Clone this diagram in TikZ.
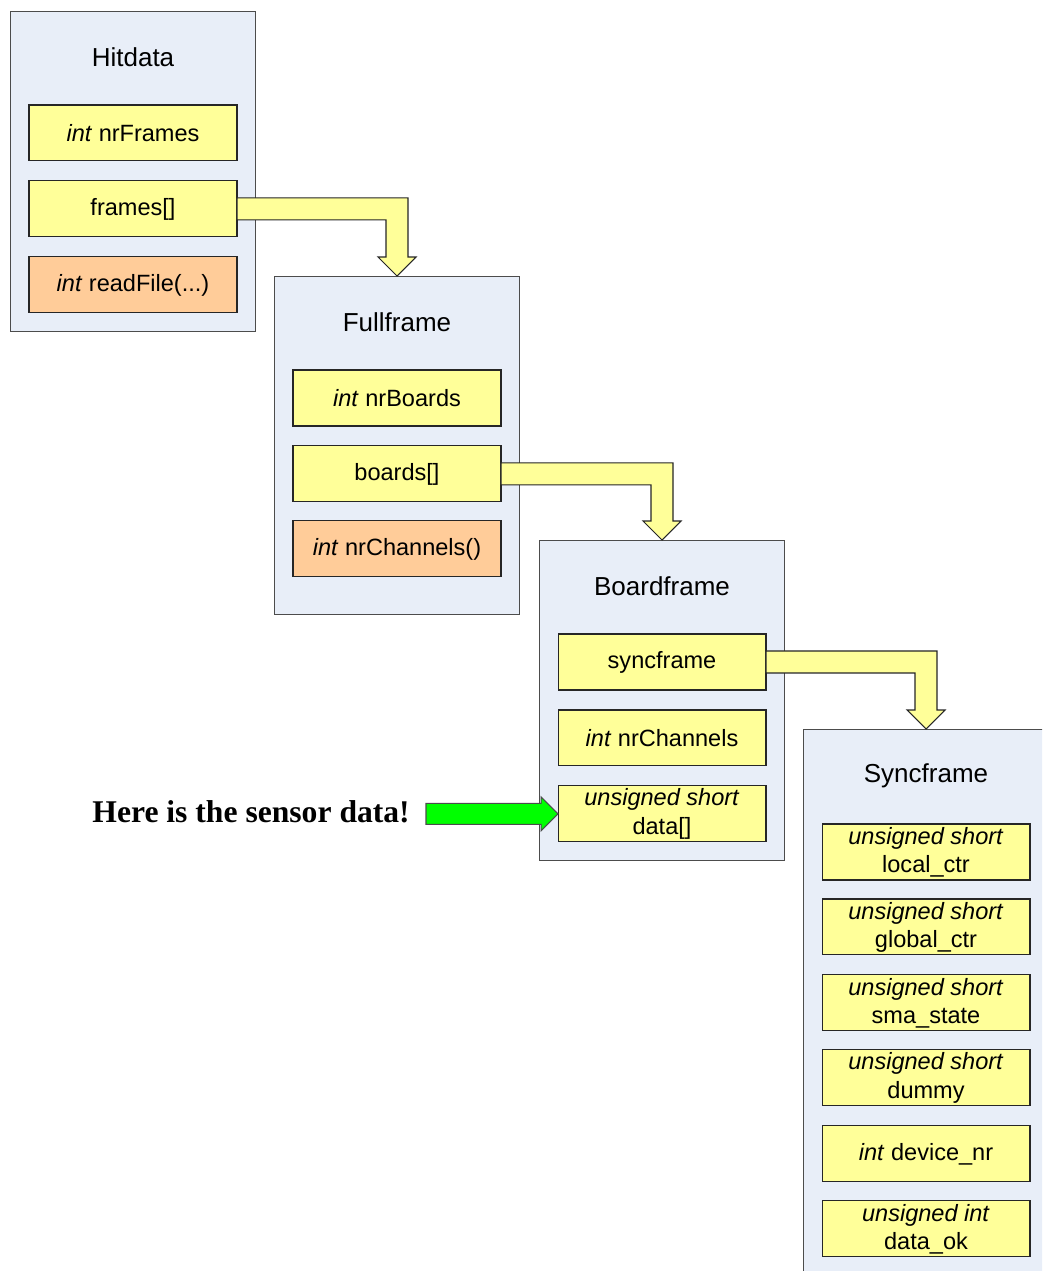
\documentclass[tikz,border=0pt]{standalone}
\usepackage{fontspec}
\setmainfont{Liberation Sans}
\newfontfamily\serifbold{Liberation Serif}
\usepackage{tikz}
\usetikzlibrary{positioning, calc}

\definecolor{framebg}{RGB}{232,238,248}
\definecolor{fieldyellow}{RGB}{255,255,153}
\definecolor{methodorange}{RGB}{255,204,153}
\definecolor{arrowgreen}{RGB}{0,255,0}

% block arrow from a field to the top of the next frame
\newcommand{\blockarrow}[2]{%
  \draw[blockarrow] ($(#1.east)+(0,-11)$) -- ($(#2.north |- #1.east)+(11,-11)$)
    -- ($(#2.north)+(11,-19)$) -- ($(#2.north)+(19,-19)$) -- (#2.north)
    -- ($(#2.north)+(-19,-19)$) -- ($(#2.north)+(-11,-19)$)
    -- ($(#2.north |- #1.east)+(-11,11)$) -- ($(#1.east)+(0,11)$) -- cycle;}

\begin{document}
\begin{tikzpicture}[x=0.02cm, y=-0.02cm, node distance=0.4cm,
        frame/.style={draw=black!70, line width=0.6pt, fill=framebg, rectangle, minimum width=4.9cm, anchor=north west},
        title/.style={font=\fontsize{14.8}{17}\selectfont},
        field/.style={draw=black!85, line width=0.6pt, fill=fieldyellow, rectangle, minimum width=4.16cm, minimum height=1.12cm, outer sep=0pt, align=center, inner sep=1pt, font=\fontsize{13.4}{16}\selectfont},
        method/.style={field, fill=methodorange},
        blockarrow/.style={draw=black!85, line width=0.6pt, fill=fieldyellow, line join=miter},
        greenarrow/.style={draw=black!70, line width=0.6pt, fill=arrowgreen, line join=miter}]
      \clip (0,0) rectangle (1042,1271);

      % Hitdata
      \node[frame, minimum height=6.4cm] (hitdata) at (10,11) {};
      \node[title] (hitdataT) at ($(hitdata.north)+(0,46)$) {Hitdata};
      \node[field, below=1.88cm of hitdata.north] (nrframes) {\textit{int} nrFrames};
      \node[field, below=of nrframes] (frames) {frames[]};
      \node[method, below=of frames] (readfile) {\textit{int} readFile(...)};

      % Fullframe
      \node[frame, minimum height=6.76cm] (fullframe) at (274,276) {};
      \node[title] (fullframeT) at ($(fullframe.north)+(0,46)$) {Fullframe};
      \node[field, below=1.88cm of fullframe.north] (nrboards) {\textit{int} nrBoards};
      \node[field, below=of nrboards] (boards) {boards[]};
      \node[method, below=0.38cm of boards] (nrchannelsF) {\textit{int} nrChannels()};

      % Boardframe
      \node[frame, minimum height=6.4cm] (boardframe) at (539,540) {};
      \node[title] (boardframeT) at ($(boardframe.north)+(0,46)$) {Boardframe};
      \node[field, below=1.88cm of boardframe.north] (syncfield) {syncframe};
      \node[field, below=of syncfield] (nrchannels) {\textit{int} nrChannels};
      \node[field, below=of nrchannels] (data) {\textit{unsigned short}\\data[]};

      % Syncframe
      \node[frame, minimum height=11.4cm] (syncframe) at (803,729) {};
      \node[title] (syncframeT) at ($(syncframe.north)+(0,47)$) {Syncframe};
      \node[field, below=1.9cm of syncframe.north] (localctr) {\textit{unsigned short}\\local\_ctr};
      \node[field, below=0.38cm of localctr] (globalctr) {\textit{unsigned short}\\global\_ctr};
      \node[field, below=of globalctr] (smastate) {\textit{unsigned short}\\sma\_state};
      \node[field, below=0.38cm of smastate] (dummy) {\textit{unsigned short}\\dummy};
      \node[field, below=of dummy] (devicenr) {\textit{int} device\_nr};
      \node[field, below=0.38cm of devicenr] (dataok) {\textit{unsigned int}\\data\_ok};

      % Pointer arrows
      \blockarrow{frames}{fullframe}
      \blockarrow{boards}{boardframe}
      \blockarrow{syncfield}{syncframe}

      % Sensor data
      \node[anchor=east, font=\serifbold\bfseries\fontsize{18}{21}\selectfont] (sensor) at (416,812) {Here is the sensor data!};
      \draw[greenarrow] ($(data.west -| sensor.east)+(10,-10.5)$) -- ($(data.west)+(-17,-10.5)$)
        -- ($(data.west)+(-17,-17)$) -- (data.west) -- ($(data.west)+(-17,17)$)
        -- ($(data.west)+(-17,10.5)$) -- ($(data.west -| sensor.east)+(10,10.5)$) -- cycle;
\end{tikzpicture}
\end{document}
